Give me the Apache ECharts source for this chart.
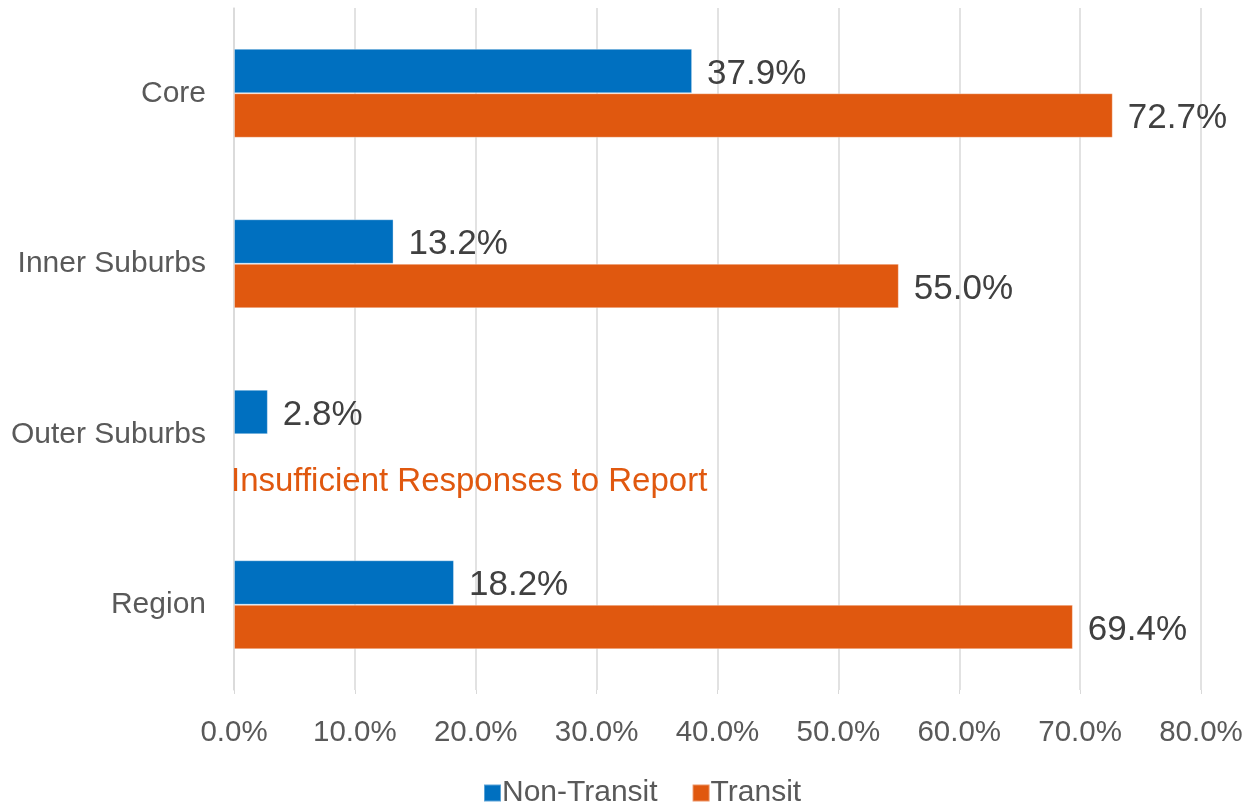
<!DOCTYPE html>
<html><head><meta charset="utf-8">
<script src="https://cdn.jsdelivr.net/npm/echarts@6/dist/echarts.min.js"></script>
<style>html,body{margin:0;padding:0;background:#fff}#c{width:1250px;height:805px}</style>
</head><body><div id="c"></div>
<script>
const categories = ['Core', 'Inner Suburbs', 'Outer Suburbs', 'Region'];
const nonTransit = [37.9, 13.2, 2.8, 18.2];
const transit = [72.7, 55.0, null, 69.4];
const xTicks = [0, 10, 20, 30, 40, 50, 60, 70, 80];
const missingNote = 'Insufficient Responses to Report';

const BLUE = '#0070C0', ORANGE = '#E0580F';
const FONT = '"Liberation Sans", Arial, sans-serif';

const transitData = transit.map(v => v === null
  ? { value: 0, itemStyle: { color: 'rgba(0,0,0,0)', borderWidth: 0 },
      label: { show: true, formatter: missingNote, color: ORANGE, fontSize: 33, distance: -3, offset: [0, 25] } }
  : v);

const chart = echarts.init(document.getElementById('c'), null, { renderer: 'canvas' });
chart.setOption({
  animation: false,
  textStyle: { fontFamily: FONT },
  grid: { left: 234, right: 49, top: 8, bottom: 115, containLabel: false },
  xAxis: {
    type: 'value', min: xTicks[0], max: xTicks[xTicks.length - 1], interval: 10,
    axisLine: { show: false },
    axisTick: { show: true, length: 4, lineStyle: { color: '#d9d9d9' } },
    splitLine: { show: true, lineStyle: { color: '#d9d9d9', width: 1.5 } },
    axisLabel: { formatter: v => v.toFixed(1) + '%', fontSize: 29.5, color: '#595959', margin: 28, fontFamily: FONT }
  },
  yAxis: {
    type: 'category', data: categories, inverse: true,
    axisLine: { show: true, lineStyle: { color: '#d9d9d9', width: 1.5 } },
    axisTick: { show: false },
    axisLabel: { fontSize: 30, color: '#595959', margin: 28, fontFamily: FONT, padding: [4, 0, 0, 0] }
  },
  legend: {
    top: 773, left: 478, itemWidth: 17, itemHeight: 17, itemGap: 34,
    icon: 'rect',
    textStyle: { fontSize: 30, color: '#595959', fontFamily: FONT, padding: [0, 0, 0, -4] },
    data: ['Non-Transit', 'Transit']
  },
  series: [
    {
      name: 'Non-Transit', type: 'bar', data: nonTransit, barWidth: 44.5, barGap: '0%',
      itemStyle: { color: BLUE, borderColor: 'rgba(255,255,255,0.35)', borderWidth: 1 },
      label: { show: true, position: 'right', distance: 15, fontSize: 35, color: '#404040',
               fontFamily: FONT, offset: [0, 3], formatter: p => p.value.toFixed(1) + '%' }
    },
    {
      name: 'Transit', type: 'bar', data: transitData, barWidth: 44.5, barGap: '0%',
      itemStyle: { color: ORANGE, borderColor: 'rgba(255,255,255,0.35)', borderWidth: 1 },
      label: { show: true, position: 'right', distance: 15, fontSize: 35, color: '#404040',
               fontFamily: FONT, offset: [0, 3], formatter: p => (+p.value).toFixed(1) + '%' }
    }
  ]
});
</script></body></html>
